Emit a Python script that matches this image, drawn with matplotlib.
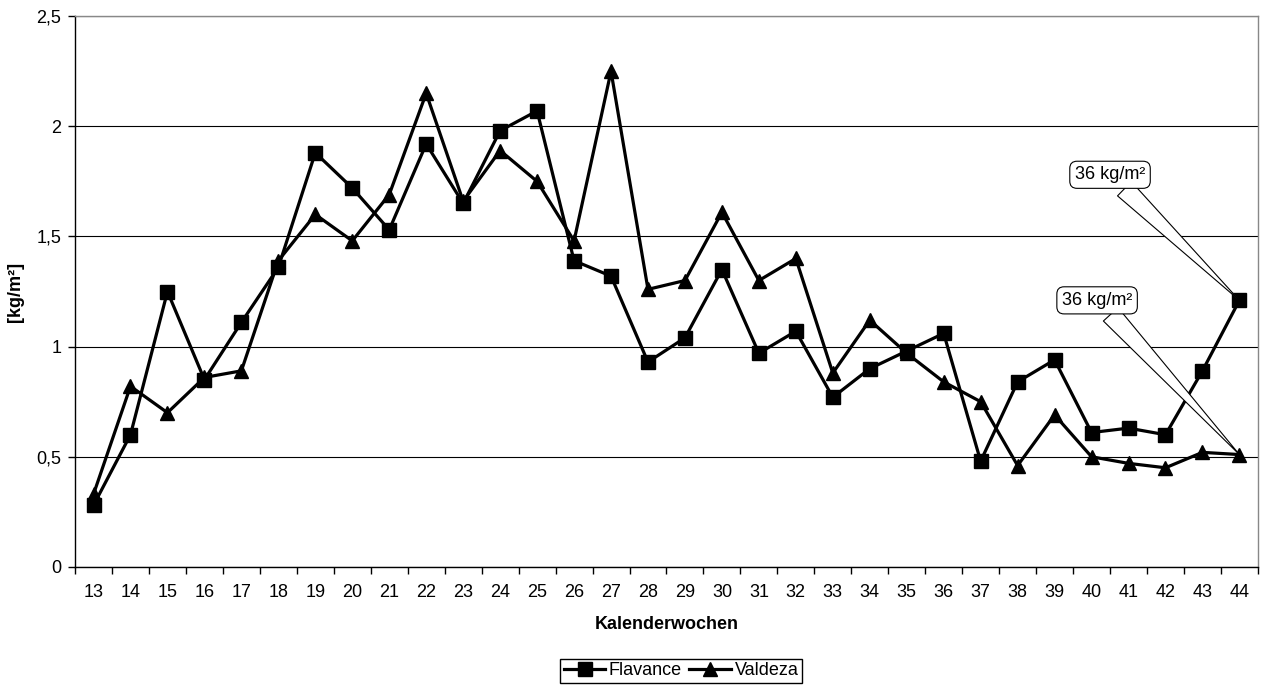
import numpy as np
import matplotlib
matplotlib.use("Agg")
import matplotlib.pyplot as plt
from matplotlib.ticker import FixedLocator, FuncFormatter

plt.rcParams['font.family'] = ['Liberation Sans', 'DejaVu Sans']

# Kalenderwochen und Werte in kg/m²
weeks = list(range(13, 45))
flavance = [0.28, 0.60, 1.25, 0.85, 1.11, 1.36, 1.88, 1.72, 1.53, 1.92, 1.65,
            1.98, 2.07, 1.39, 1.32, 0.93, 1.04, 1.35, 0.97, 1.07, 0.77,
            0.90, 0.98, 1.06, 0.48, 0.84, 0.94, 0.61, 0.63, 0.60, 0.89, 1.21]
valdeza = [0.33, 0.82, 0.70, 0.86, 0.89, 1.39, 1.60, 1.48, 1.69, 2.15, 1.66,
           1.89, 1.75, 1.48, 2.25, 1.26, 1.30, 1.61, 1.30, 1.40, 0.88,
           1.12, 0.97, 0.84, 0.75, 0.46, 0.69, 0.50, 0.47, 0.45, 0.52, 0.51]
y_ticks = [0, 0.5, 1, 1.5, 2, 2.5]
callout_text = "36 kg/m²"
fs = 13

fig = plt.figure(figsize=(12.85, 6.88), dpi=100)
ax = fig.add_axes([0.0584, 0.176, 0.9205, 0.8005])

ax.plot(weeks, flavance, color='black', lw=2.3, marker='s', ms=10,
        label='Flavance', zorder=3)
ax.plot(weeks, valdeza, color='black', lw=2.3, marker='^', ms=10,
        label='Valdeza', zorder=3)

ax.set_xlim(12.5, 44.5)
ax.set_ylim(0, 2.5)
ax.xaxis.set_major_locator(FixedLocator(weeks))
ax.xaxis.set_minor_locator(FixedLocator(np.arange(12.5, 45, 1)))
ax.tick_params(axis='x', which='major', length=0, pad=12, labelsize=fs)
ax.tick_params(axis='x', which='minor', length=5, width=1, direction='out')
ax.set_yticks(y_ticks)
ax.yaxis.set_major_formatter(FuncFormatter(lambda v, p: f"{v:g}".replace('.', ',')))
ax.tick_params(axis='y', length=5, width=1, direction='out', labelsize=fs, pad=5)

ax.grid(axis='y', color='black', lw=0.8)
ax.set_axisbelow(True)
for side in ['top', 'right']:
    ax.spines[side].set_color('#888888')
    ax.spines[side].set_linewidth(1)
for side in ['left', 'bottom']:
    ax.spines[side].set_color('black')
    ax.spines[side].set_linewidth(1)

ax.set_xlabel('Kalenderwochen', fontsize=fs, fontweight='bold', labelpad=11)
ax.set_ylabel('[kg/m²]', fontsize=fs, fontweight='bold', labelpad=9)

# Beschriftungen am letzten Punkt beider Reihen
for series, txt_xy in [(flavance, (40.5, 1.78)), (valdeza, (40.15, 1.21))]:
    ax.annotate(callout_text, xy=(weeks[-1], series[-1]), xytext=txt_xy,
                ha='center', va='center', fontsize=fs, zorder=4,
                bbox=dict(boxstyle='round,pad=0.28,rounding_size=0.4',
                          fc='white', ec='black', lw=0.8),
                arrowprops=dict(arrowstyle='wedge,tail_width=1.1,shrink_factor=0.5',
                                fc='white', ec='black', lw=0.8,
                                shrinkA=0, shrinkB=0, relpos=(0.6, 0.1)))

fig.legend(loc='center', bbox_to_anchor=(0.530, 0.025), ncol=2, fontsize=fs,
           frameon=True, fancybox=False, edgecolor='black', framealpha=1,
           handlelength=2.3, columnspacing=0.4, handletextpad=0.2,
           borderpad=0.2, borderaxespad=0)

fig.savefig('out.png', dpi=100)
